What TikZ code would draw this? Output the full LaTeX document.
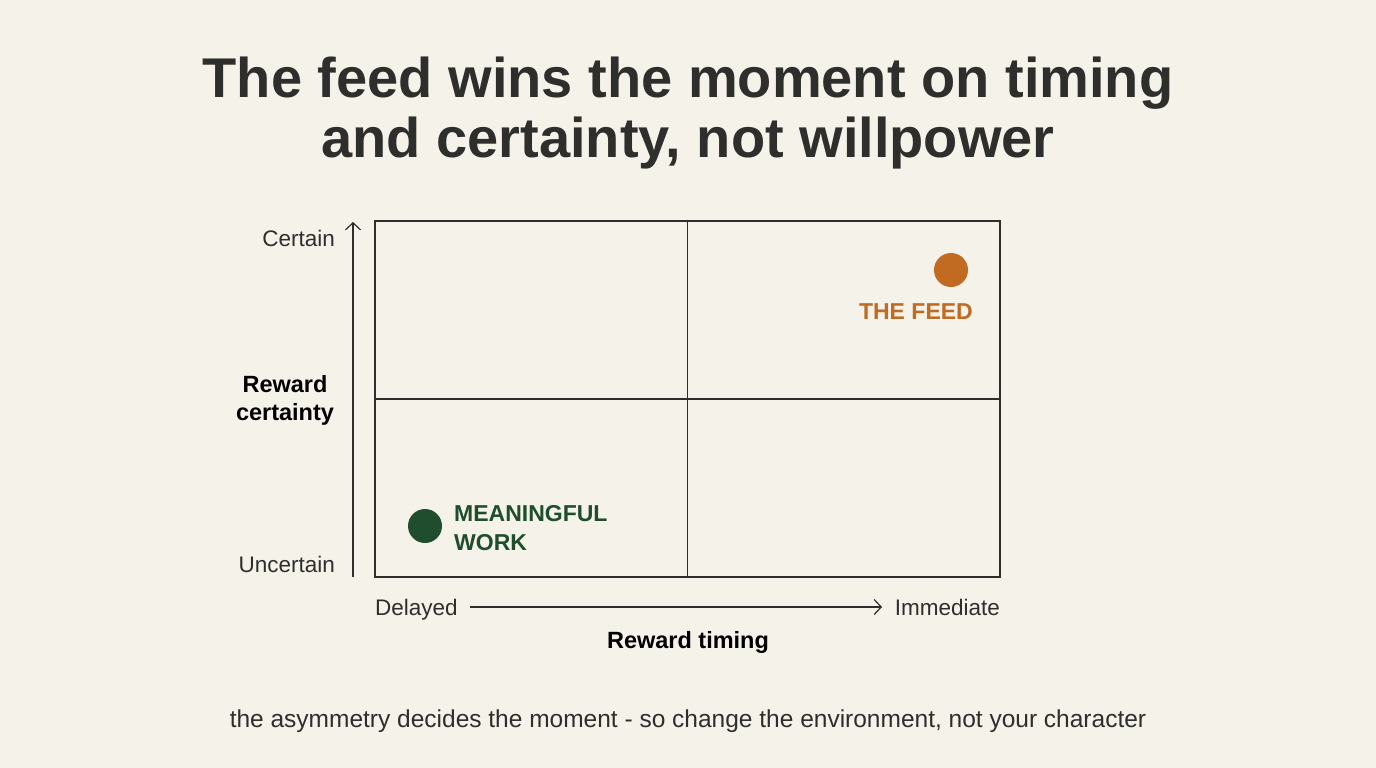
\documentclass[tikz,border=0pt]{standalone}
\usepackage{fontspec}
\setmainfont{Liberation Sans}
\usetikzlibrary{arrows.meta}
\definecolor{bg}{HTML}{F5F2E9}
\definecolor{ink}{HTML}{2E2E2C}
\definecolor{feed}{HTML}{C06A22}
\definecolor{work}{HTML}{1F4D2E}
\tikzset{
  gridline/.style={draw=ink, line width=1.6pt},
  axisarrow/.style={draw=ink, line width=1.2pt, -{Straight Barb[length=7pt,width=15pt,line width=1.2pt]}},
  lbl/.style={font=\fontsize{22.5}{26}\selectfont, text=ink, inner sep=0pt},
  axistitle/.style={font=\bfseries\fontsize{23.5}{28}\selectfont, text=black, inner sep=0pt, align=center},
  dotlbl/.style={font=\bfseries\fontsize{23}{29}\selectfont, inner sep=0pt},
}
\begin{document}
\begin{tikzpicture}[x=1pt,y=-1pt]
\fill[bg] (0,0) rectangle (1376,768);
\useasboundingbox (0,0) rectangle (1376,768);
% title
\node[font=\bfseries\fontsize{56}{60}\selectfont, text=ink, align=center, inner sep=0pt] (title) at (688,113) {The feed wins the moment on timing\\and certainty, not willpower};
% grid
\node[gridline, minimum width=625pt, minimum height=356pt, inner sep=0pt] (box) at (687.5,399) {};
\draw[gridline] (box.north) -- (box.south);
\draw[gridline] (box.west) -- (box.east);
% y axis
\coordinate (ybot) at (353,577);
\coordinate (ytop) at (353,222);
\draw[axisarrow] (ybot) -- (ytop);
\node[lbl, anchor=base east] (certain) at (335,246) {Certain};
\node[lbl, anchor=base east] (uncertain) at (335,572) {Uncertain};
\node[axistitle] (ytitle) at (285,400) {Reward\\certainty};
% x axis
\node[lbl, anchor=base west] (delayed) at (375,615) {Delayed};
\node[lbl, anchor=base east] (immediate) at (1000,615) {Immediate};
\coordinate (xl) at (470,607);
\coordinate (xr) at (882,607);
\draw[axisarrow] (xl) -- (xr);
\node[axistitle] (xtitle) at (688,642) {Reward timing};
% points
\fill[feed] (951,270) circle (17pt);
\node[dotlbl, text=feed, anchor=east] (feedlbl) at (973,312) {THE FEED};
\fill[work] (425,526) circle (17pt);
\node[dotlbl, text=work, anchor=west, align=left] (worklbl) at (454,528) {MEANINGFUL\\WORK};
% caption
\node[font=\fontsize{24.5}{28}\selectfont, text=ink, inner sep=0pt] (caption) at (688,721) {the asymmetry decides the moment - so change the environment, not your character};
\end{tikzpicture}
\end{document}
